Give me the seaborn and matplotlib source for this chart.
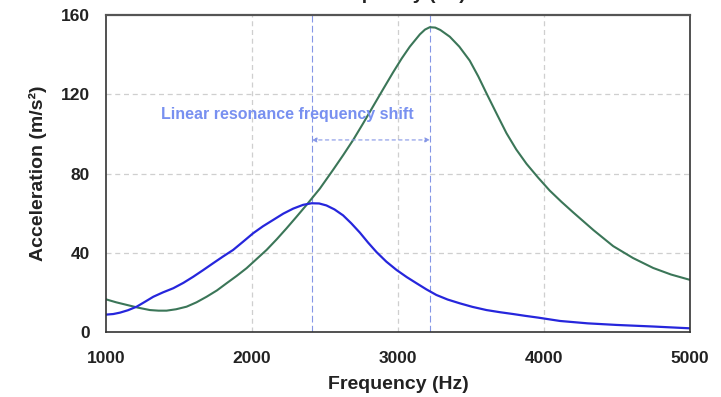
import numpy as np
import pandas as pd
import matplotlib
matplotlib.use("Agg")
import matplotlib.pyplot as plt
from matplotlib.ticker import MultipleLocator
import seaborn as sns

# --- data ---
freq_blue = [1000, 1050, 1096, 1150, 1210, 1270, 1324, 1390, 1461, 1530, 1598,
             1665, 1734, 1800, 1871, 1940, 2008, 2075, 2145, 2215, 2282, 2350,
             2408, 2460, 2510, 2565, 2624, 2680, 2739, 2795, 2853, 2920, 2990,
             3060, 3127, 3195, 3263, 3340, 3423, 3510, 3606, 3700, 3788, 3870,
             3959, 4110, 4300, 4498, 4750, 5000]
acc_blue = [9.0, 9.3, 10.0, 11.2, 13.0, 15.6, 18.0, 20.2, 22.3, 25.0, 28.1,
            31.4, 34.9, 38.2, 41.6, 45.8, 50.0, 53.5, 56.7, 59.9, 62.4, 64.3,
            65.1, 65.0, 64.0, 62.0, 59.0, 55.0, 50.3, 45.3, 40.5, 35.7, 31.5,
            27.9, 24.8, 21.7, 18.9, 16.6, 14.7, 12.9, 11.3, 10.2, 9.3, 8.4,
            7.5, 5.8, 4.6, 3.8, 3.0, 2.1]

freq_green = [1000, 1070, 1142, 1220, 1301, 1360, 1415, 1480, 1552, 1620, 1689,
              1760, 1826, 1895, 1963, 2030, 2100, 2170, 2237, 2305, 2374, 2465,
              2556, 2625, 2693, 2760, 2830, 2900, 2966, 3025, 3081, 3150, 3185, 3218,
              3255, 3290, 3355, 3420, 3491, 3550, 3606, 3675, 3743, 3810, 3880, 3960,
              4039, 4120, 4200, 4340, 4474, 4610, 4748, 4870, 5000]
acc_green = [16.7, 15.2, 13.9, 12.5, 11.3, 11.0, 11.0, 11.7, 13.0, 15.2, 18.0,
             21.2, 24.8, 28.5, 32.4, 36.9, 41.6, 47.0, 52.5, 58.3, 64.3, 72.5,
             82.0, 89.4, 97.0, 105.2, 114.0, 122.8, 131.0, 138.0, 144.0, 150.2, 152.6, 153.8,
             153.6, 152.4, 149.0, 144.0, 137.0, 129.0, 120.5, 110.3, 100.4, 92.2, 85.0, 78.0,
             71.5, 65.8, 60.5, 51.5, 43.5, 37.5, 32.5, 29.2, 26.5]

peak_low = 2410
peak_high = 3219
arrow_y = 97
note = "Linear resonance frequency shift"

x_ticks = [1000, 2000, 3000, 4000, 5000]
y_ticks = [0, 40, 80, 120, 160]

df_blue = pd.DataFrame({"f": freq_blue, "a": acc_blue})
df_green = pd.DataFrame({"f": freq_green, "a": acc_green})

sns.set_theme(style="white")
plt.rcParams["font.family"] = ["Liberation Sans", "DejaVu Sans"]

fig = plt.figure(figsize=(7.21, 3.97), dpi=100)
ax = fig.add_axes([0.147, 0.1625, 0.81, 0.8])

# grid
for xv in [2000, 3000, 4000]:
    ax.axvline(xv, color="#cfcfcf", linestyle=(0, (4, 3)), linewidth=0.9, zorder=0)
for yv in [40, 80, 120]:
    ax.axhline(yv, color="#cfcfcf", linestyle=(0, (4, 3)), linewidth=0.9, zorder=0)

# resonance markers
for xv in [peak_low, peak_high]:
    ax.axvline(xv, color="#8596e6", linestyle=(0, (6, 3)), linewidth=0.8, zorder=1)

sns.lineplot(data=df_green, x="f", y="a", ax=ax, color="#3b7658", linewidth=1.5)
sns.lineplot(data=df_blue, x="f", y="a", ax=ax, color="#2626dc", linewidth=1.6)

ax.annotate("", xy=(peak_low, arrow_y), xytext=(peak_high, arrow_y),
            arrowprops=dict(arrowstyle="<|-|>", color="#8596e6", linestyle=(0, (3, 3)),
                            linewidth=0.8, mutation_scale=7, shrinkA=0, shrinkB=0))
ax.text(2239, 110, note, color="#7890f0", fontsize=11.5, fontweight="bold",
        ha="center", va="center")

ax.set_xlim(1000, 5000)
ax.set_ylim(0, 160)
ax.set_xticks(x_ticks)
ax.set_yticks(y_ticks)
ax.xaxis.set_minor_locator(MultipleLocator(500))
ax.yaxis.set_minor_locator(MultipleLocator(20))
ax.tick_params(which="major", direction="inout", length=7, width=1.1, color="#333333",
               labelsize=12.5, labelcolor="#222222")
ax.tick_params(which="minor", direction="in", length=3, width=1.0, color="#333333")
for lab in ax.get_xticklabels() + ax.get_yticklabels():
    lab.set_fontweight("bold")
ax.tick_params(axis="x", pad=10)
ax.tick_params(axis="y", pad=8)

for s in ax.spines.values():
    s.set_color("#333333")
    s.set_linewidth(1.2)
ax.spines["top"].set_color("#555555")
ax.spines["top"].set_linewidth(1.6)

ax.set_xlabel("Frequency (Hz)", fontsize=14, fontweight="bold", color="#222222", labelpad=7)
ax.set_ylabel("Acceleration (m/s²)", fontsize=14, fontweight="bold", color="#222222", labelpad=10)

# top label cut off at the figure edge, as in the reference
fig.text(0.549, 1.0 - 3 / 397, "Frequency (Hz)", fontsize=14, fontweight="bold",
         color="#222222", ha="center", va="bottom")

fig.savefig("out.png", dpi=100)
